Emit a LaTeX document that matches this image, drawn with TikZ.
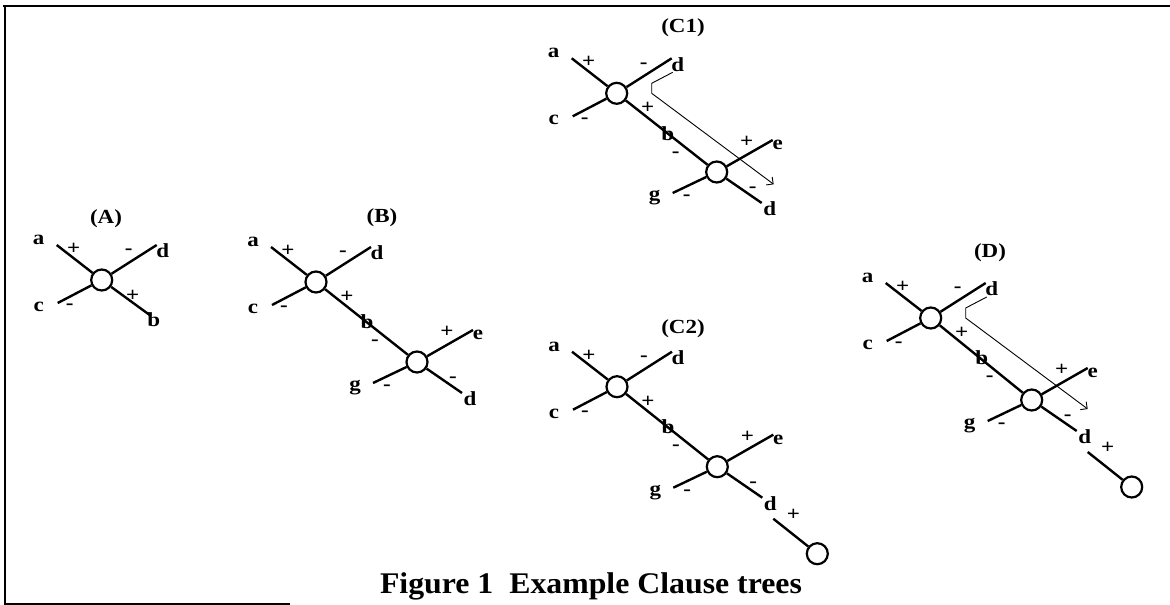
\documentclass[tikz,border=0pt]{standalone}
\usepackage{fontspec}
\newfontfamily\labfont[FakeStretch=1.15]{Liberation Serif}
\newfontfamily\capfont[FakeStretch=1.06]{Liberation Serif}
\usetikzlibrary{arrows.meta}
\tikzset{
  junc/.style={circle,draw,line width=2.2pt,minimum size=21pt,inner sep=0pt},
  arm/.style={line width=2.4pt},
  lab/.style={inner sep=0pt,font=\labfont\bfseries\fontsize{20}{20}\selectfont},
  ttl/.style={inner sep=0pt,font=\labfont\bfseries\fontsize{20}{20}\selectfont},
  caption/.style={inner sep=0pt,anchor=base,font=\capfont\bfseries\fontsize{30}{30}\selectfont},
  moveline/.style={line width=0.9pt,-{Straight Barb[angle=90:7pt]}},
  frameline/.style={line width=2pt},
}
% upper junction: arms a, d, c
\newcommand\topjunc[1]{%
  \node[junc] (#1o) at (0,0) {};
  \coordinate (#1a) at (-45,-35);
  \coordinate (#1d) at (55,-35);
  \coordinate (#1c) at (-44,23);
  \draw[arm] (#1o) -- (#1a);
  \draw[arm] (#1o) -- (#1d);
  \draw[arm] (#1o) -- (#1c);
  \node[lab] (#1la) at (-63,-40) {a};
  \node[lab] (#1pa) at (-28,-31) {+};
  \node[lab] (#1md) at (27,-28) {-};
  \node[lab] (#1ld) at (61,-29) {d};
  \node[lab] (#1lc) at (-63,27) {c};
  \node[lab] (#1mc) at (-32,27) {-};
}
% lower junction: arms e, g, d
\newcommand\lowjunc[1]{%
  \node[junc] (#1o) at (0,0) {};
  \coordinate (#1e) at (56,-32);
  \coordinate (#1g) at (-44,21);
  \coordinate (#1d) at (45,31);
  \draw[arm] (#1o) -- (#1e);
  \draw[arm] (#1o) -- (#1g);
  \draw[arm] (#1o) -- (#1d);
  \node[lab] (#1pe) at (30,-30) {+};
  \node[lab] (#1le) at (61,-27) {e};
  \node[lab] (#1lg) at (-62,26) {g};
  \node[lab] (#1mg) at (-30,26) {-};
  \node[lab] (#1md) at (36,18) {-};
  \node[lab] (#1ld) at (53,37) {d};
}
% link b between junctions (origin at upper junction)
\newcommand\blink[2]{%
  \draw[arm] (#1o) -- (#2o);
  \node[lab] (#1pb) at (31,15) {+};
  \node[lab] (#1lb) at (51,40) {b};
  \node[lab] (#1mb) at (59,61) {-};
}
% tail to third junction (origin at lower junction)
\newcommand\tailjunc[1]{%
  \coordinate (#1ts) at (56,52);
  \node[junc] (#1t) at (100,87) {};
  \draw[arm] (#1ts) -- (#1t);
  \node[lab] (#1pt) at (76,48) {+};
}
% move arrow (origin at upper junction)
\newcommand\movearrow[1]{%
  \coordinate (#1m0) at (56,-21);
  \coordinate (#1m1) at (35,-10);
  \coordinate (#1m2) at (35,0);
  \coordinate (#1m3) at (157,91);
  \draw[moveline] (#1m0) -- (#1m1) -- (#1m2) -- (#1m3);
}
\begin{document}
\begin{tikzpicture}[x=1pt,y=-1pt]
\useasboundingbox (0,0) rectangle (1170,605);
% frame
\coordinate (f1) at (3,6);
\coordinate (f2) at (1170,6);
\coordinate (f3) at (5,6);
\coordinate (f4) at (5,605);
\coordinate (f5) at (5,604);
\coordinate (f6) at (290,604);
\draw[frameline] (f1) -- (f2);
\draw[frameline] (f3) -- (f4);
\draw[line width=1.2pt] (f5) -- (f6);

% (A)
\node[ttl] (tA) at (106,219) {(A)};
\begin{scope}[shift={(101.7,280)}]
  \topjunc{A}
  \coordinate (Ab) at (48,35);
  \draw[arm] (Ao) -- (Ab);
  \node[lab] (Apb) at (31,16) {+};
  \node[lab] (Alb) at (52,40) {b};
\end{scope}

% (B)
\node[ttl] (tB) at (382,218) {(B)};
\begin{scope}[shift={(316,282)}]
  \topjunc{B}
\end{scope}
\begin{scope}[shift={(417,362)}]
  \lowjunc{BB}
\end{scope}
\begin{scope}[shift={(316,282)}]
  \blink{B}{BB}
\end{scope}

% (C1)
\node[ttl] (tC) at (683,28) {(C1)};
\begin{scope}[shift={(616.7,93.3)}]
  \topjunc{C}
\end{scope}
\begin{scope}[shift={(716.7,172)}]
  \lowjunc{CC}
\end{scope}
\begin{scope}[shift={(616.7,93.3)}]
  \blink{C}{CC}
  \movearrow{C}
\end{scope}

% (C2)
\node[ttl] (tK) at (683,329) {(C2)};
\begin{scope}[shift={(617,386.7)}]
  \topjunc{K}
\end{scope}
\begin{scope}[shift={(717.3,466.7)}]
  \lowjunc{KK}
  \tailjunc{KK}
\end{scope}
\begin{scope}[shift={(617,386.7)}]
  \blink{K}{KK}
\end{scope}

% (D)
\node[ttl] (tD) at (990,253) {(D)};
\begin{scope}[shift={(930.7,318)}]
  \topjunc{D}
\end{scope}
\begin{scope}[shift={(1031.7,400)}]
  \lowjunc{DD}
  \tailjunc{DD}
\end{scope}
\begin{scope}[shift={(930.7,318)}]
  \blink{D}{DD}
  \movearrow{D}
\end{scope}

% caption
\node[caption] (cap) at (591,593) {Figure 1\ \ Example Clause trees};
\end{tikzpicture}
\end{document}
